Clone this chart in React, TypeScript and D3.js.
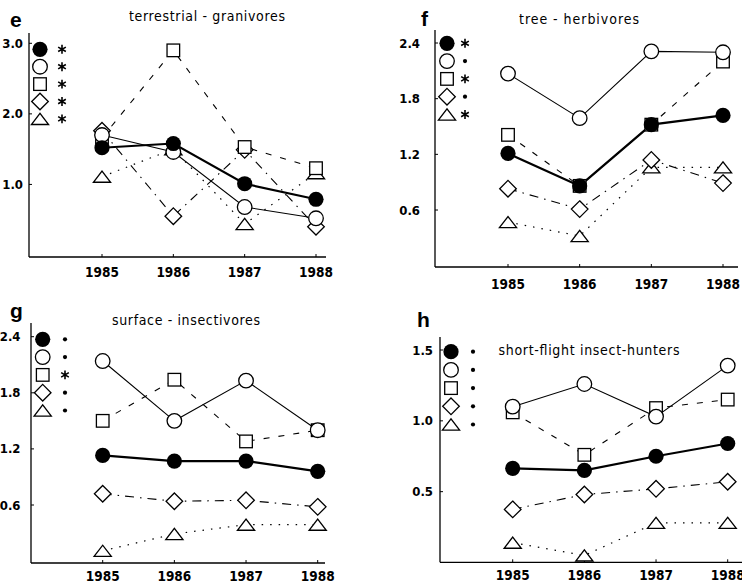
import React from "react";
import * as d3 from "d3";

const years = [1985, 1986, 1987, 1988];
const seriesKeys = ["filled", "open", "square", "diamond", "triangle"];

// panel e: terrestrial-granivores
const eFilled = [1.52, 1.58, 1.01, 0.79];
const eOpen = [1.7, 1.46, 0.68, 0.52];
const eSquare = [1.66, 2.9, 1.53, 1.23];
const eDiamond = [1.76, 0.55, 1.49, 0.4];
const eTriangle = [1.11, 1.5, 0.44, 1.16];
const eSig = ["*", "*", "*", "*", "*"];
const eTicks = [1.0, 2.0, 3.0];

// panel f: tree-herbivores
const fFilled = [1.21, 0.86, 1.52, 1.62];
const fOpen = [2.07, 1.59, 2.31, 2.3];
const fSquare = [1.41, 0.86, 1.52, 2.2];
const fDiamond = [0.83, 0.61, 1.14, 0.89];
const fTriangle = [0.47, 0.32, 1.06, 1.06];
const fSig = ["*", ".", "*", ".", "*"];
const fTicks = [0.6, 1.2, 1.8, 2.4];

// panel g: surface-insectivores
const gFilled = [1.13, 1.07, 1.07, 0.96];
const gOpen = [2.14, 1.5, 1.93, 1.4];
const gSquare = [1.5, 1.94, 1.28, 1.4];
const gDiamond = [0.72, 0.64, 0.65, 0.58];
const gTriangle = [0.11, 0.29, 0.39, 0.39];
const gSig = [".", ".", "*", ".", "."];
const gTicks = [0.6, 1.2, 1.8, 2.4];

// panel h: short-flight insect-hunters
const hFilled = [0.665, 0.65, 0.75, 0.84];
const hOpen = [1.1, 1.26, 1.03, 1.39];
const hSquare = [1.06, 0.76, 1.09, 1.15];
const hDiamond = [0.375, 0.48, 0.52, 0.57];
const hTriangle = [0.14, 0.05, 0.28, 0.28];
const hSig = [".", ".", ".", ".", "."];
const hTicks = [0.5, 1.0, 1.5];

const FONT = "'Liberation Sans Narrow', 'DejaVu Sans Condensed', 'Arial Narrow', sans-serif";

type Panel = {
  letter: string; letterX: number; letterY: number;
  title: string; titleX: number; titleY: number; titleLen: number;
  axisX: number; axisRight: number; axisTop: number; axisY: number;
  y0: number; yTopVal: number; yTopPx: number;
  x0: number; x1: number; yearY: number;
  tickLabelX: number; ticks: number[]; tickFmt: string;
  legX: number; symX: number; legY: number; legStep: number;
  data: number[][]; sig: string[];
};

const panels: Panel[] = [
  {
    letter: "e", letterX: 10, letterY: 27,
    title: "terrestrial - granivores", titleX: 207, titleY: 21, titleLen: 156,
    axisX: 29, axisRight: 326, axisTop: 33, axisY: 257,
    y0: 255, yTopVal: 3.0, yTopPx: 43.3,
    x0: 102, x1: 316, yearY: 277,
    tickLabelX: 23, ticks: eTicks, tickFmt: ".1f",
    legX: 40, symX: 62, legY: 49.3, legStep: 17.4,
    data: [eFilled, eOpen, eSquare, eDiamond, eTriangle], sig: eSig,
  },
  {
    letter: "f", letterX: 421, letterY: 26,
    title: "tree - herbivores", titleX: 579, titleY: 24, titleLen: 120,
    axisX: 435, axisRight: 738, axisTop: 30, axisY: 267,
    y0: 265.7, yTopVal: 2.4, yTopPx: 43,
    x0: 508, x1: 723, yearY: 289,
    tickLabelX: 420, ticks: fTicks, tickFmt: ".1f",
    legX: 447, symX: 465, legY: 43.3, legStep: 17.8,
    data: [fFilled, fOpen, fSquare, fDiamond, fTriangle], sig: fSig,
  },
  {
    letter: "g", letterX: 10, letterY: 318,
    title: "surface - insectivores", titleX: 186, titleY: 325, titleLen: 148,
    axisX: 31, axisRight: 325, axisTop: 323, axisY: 563,
    y0: 561.1, yTopVal: 2.4, yTopPx: 336.7,
    x0: 102.7, x1: 317.7, yearY: 581,
    tickLabelX: 20.5, ticks: gTicks, tickFmt: ".1f",
    legX: 42.7, symX: 65, legY: 339.3, legStep: 17.8,
    data: [gFilled, gOpen, gSquare, gDiamond, gTriangle], sig: gSig,
  },
  {
    letter: "h", letterX: 417, letterY: 327,
    title: "short-flight  insect-hunters", titleX: 589, titleY: 355, titleLen: 181,
    axisX: 440, axisRight: 742, axisTop: 337, axisY: 562.3,
    y0: 562.5, yTopVal: 1.5, yTopPx: 350,
    x0: 512.7, x1: 727.7, yearY: 580,
    tickLabelX: 433, ticks: hTicks, tickFmt: ".1f",
    legX: 451, symX: 473, legY: 351.7, legStep: 18.2,
    data: [hFilled, hOpen, hSquare, hDiamond, hTriangle], sig: hSig,
  },
];

const lineStyle: Record<string, { w: number; dash?: string }> = {
  filled: { w: 2.2 },
  open: { w: 1.1 },
  square: { w: 1.1, dash: "6,9" },
  diamond: { w: 1.1, dash: "9,6,1.5,6" },
  triangle: { w: 1.2, dash: "1.5,7" },
};

function Marker({ kind, x, y }: { kind: string; x: number; y: number }) {
  const sw = 1.3;
  if (kind === "filled") return <circle cx={x} cy={y} r={7.6} fill="#000" />;
  if (kind === "open") return <circle cx={x} cy={y} r={7.3} fill="#fff" stroke="#000" strokeWidth={sw} />;
  if (kind === "square") return <rect x={x - 6.3} y={y - 6.3} width={12.6} height={12.6} fill="#fff" stroke="#000" strokeWidth={sw} />;
  if (kind === "diamond") {
    const r = 8.3;
    return <path d={`M${x},${y - r}L${x + r},${y}L${x},${y + r}L${x - r},${y}Z`} fill="#fff" stroke="#000" strokeWidth={sw} />;
  }
  const w = 8.6, h = 5.6;
  return <path d={`M${x - w},${y + h}L${x + w},${y + h}L${x},${y - h}Z`} fill="#fff" stroke="#000" strokeWidth={sw} />;
}

function Sig({ s, x, y }: { s: string; x: number; y: number }) {
  if (s === ".") return <circle cx={x} cy={y} r={2.1} fill="#000" />;
  const p = d3.symbol().type(d3.symbolAsterisk).size(55)();
  return <path d={p || ""} transform={`translate(${x},${y})`} fill="none" stroke="#000" strokeWidth={1.6} />;
}

function PanelView({ p }: { p: Panel }) {
  const x = d3.scaleLinear().domain([years[0], years[years.length - 1]]).range([p.x0, p.x1]);
  const y = d3.scaleLinear().domain([0, p.yTopVal]).range([p.y0, p.yTopPx]);
  const fmt = d3.format(p.tickFmt);
  const order = ["triangle", "diamond", "square", "open", "filled"];
  return (
    <g>
      <text x={p.letterX} y={p.letterY} fontFamily="'Liberation Sans', Arial, sans-serif" fontWeight="bold" fontSize={21}>{p.letter}</text>
      <text x={p.titleX} y={p.titleY} textAnchor="middle" fontFamily={FONT} fontSize={14} textLength={p.titleLen} lengthAdjust="spacing">{p.title}</text>
      <line x1={p.axisX} x2={p.axisX} y1={p.axisTop} y2={p.axisY} stroke="#000" strokeWidth={1.3} />
      <line x1={p.axisX} x2={p.axisRight} y1={p.axisY} y2={p.axisY} stroke="#000" strokeWidth={1.3} />
      {p.ticks.map((t) => (
        <g key={t}>
          <line x1={p.axisX} x2={p.axisX + 3} y1={y(t)} y2={y(t)} stroke="#000" strokeWidth={1} />
          <text x={p.tickLabelX} y={y(t)} dy="0.35em" textAnchor="end" fontFamily={FONT} fontWeight="bold" fontSize={13}>{fmt(t)}</text>
        </g>
      ))}
      {years.map((yr) => (
        <g key={yr}>
          <line x1={x(yr)} x2={x(yr)} y1={p.axisY} y2={p.axisY - 3} stroke="#000" strokeWidth={1} />
          <text x={x(yr)} y={p.yearY} textAnchor="middle" fontFamily={FONT} fontWeight="bold" fontSize={13.5}>{yr}</text>
        </g>
      ))}
      {order.map((k) => {
        const i = seriesKeys.indexOf(k);
        const vals = p.data[i];
        const line = d3.line<number>().x((_, j) => x(years[j])).y((v) => y(v));
        const st = lineStyle[k];
        return <path key={k} d={line(vals) || ""} fill="none" stroke="#000" strokeWidth={st.w} strokeDasharray={st.dash} />;
      })}
      {order.map((k) => {
        const i = seriesKeys.indexOf(k);
        return (
          <g key={k}>
            {p.data[i].map((v, j) => <Marker key={j} kind={k} x={x(years[j])} y={y(v)} />)}
          </g>
        );
      })}
      {seriesKeys.map((k, i) => (
        <g key={k}>
          <Marker kind={k} x={p.legX} y={p.legY + i * p.legStep} />
          <Sig s={p.sig[i]} x={p.symX} y={p.legY + i * p.legStep} />
        </g>
      ))}
    </g>
  );
}

export default function App() {
  return (
    <svg width={742} height={587} style={{ position: "absolute", left: 0, top: 0, background: "#fff" }}>
      <rect width={742} height={587} fill="#fff" />
      {panels.map((p) => <PanelView key={p.letter} p={p} />)}
    </svg>
  );
}
